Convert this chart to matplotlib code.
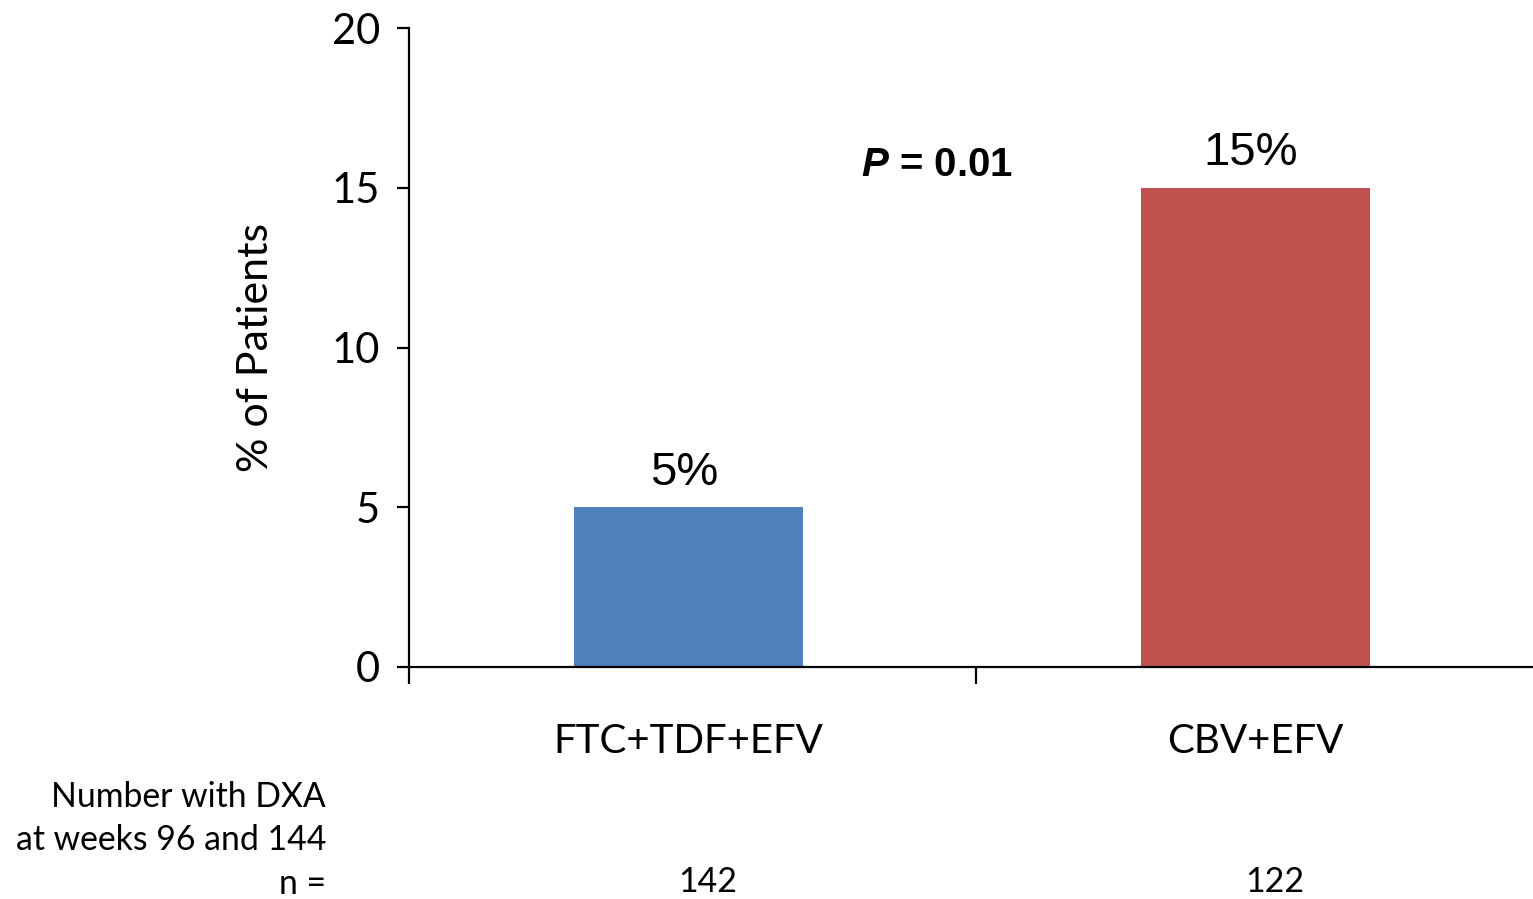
import matplotlib.pyplot as plt

# Data
groups = ["FTC+TDF+EFV", "CBV+EFV"]
percent = [5, 15]
n_dxa = [142, 122]
colors = ["#4F81BD", "#C0504D"]
p_text = "0.01"

body = "Lato"
arial = "Liberation Sans"

plt.rcParams["mathtext.fontset"] = "custom"
plt.rcParams["mathtext.bfit"] = "Liberation Sans:italic:bold"

fig = plt.figure(figsize=(15.33, 8.99), dpi=100)
ax = fig.add_axes([409 / 1533, 1 - 667 / 899, (1533 - 409) / 1533, 639 / 899])

xpos = [i + 0.493 for i in range(len(groups))]
ax.bar(xpos, percent, width=0.404, color=colors, zorder=2)

ax.set_xlim(0, (1533 - 409) / 567)
ax.set_ylim(0, 20)

for s in ["top", "right"]:
    ax.spines[s].set_visible(False)
for s in ["left", "bottom"]:
    ax.spines[s].set_linewidth(1.6)

ax.set_yticks([0, 5, 10, 15, 20])
ax.tick_params(axis="y", direction="out", length=9, width=1.6, pad=12,
               labelsize=30)
for lab in ax.get_yticklabels():
    lab.set_fontfamily(body)

ax.set_xticks([0, 1])
ax.set_xticklabels([])
ax.tick_params(axis="x", which="major", direction="out", length=12, width=1.6)
ax.set_xticks(xpos, minor=True)
ax.set_xticklabels(groups, minor=True, fontsize=29, fontfamily=body)
ax.tick_params(axis="x", which="minor", length=0, pad=40)

ax.set_ylabel("% of Patients", fontsize=31, fontfamily=body, labelpad=41)

# value labels above bars
for x, v in zip(xpos, percent):
    ax.text(x - 0.008, v + 0.7, f"{v}%", ha="center", va="baseline",
            fontsize=34, fontfamily=arial)

ax.text(0.931, 15.7, r"$\mathbfit{P}$" + " = " + p_text, ha="center",
        va="center", fontsize=29, fontfamily=arial, fontweight="bold")

# patient counts below
tr = ax.get_xaxis_transform()
for x, n in zip(xpos, n_dxa):
    ax.text(x + 0.034, -0.336, str(n), transform=tr, ha="center",
            va="center", fontsize=24.5, fontfamily=body)

fig.text(326 / 1533, 1 - 797 / 899, "Number with DXA", ha="right",
         va="center", fontsize=24.3, fontfamily=body)
fig.text(326 / 1533, 1 - 840 / 899, "at weeks 96 and 144", ha="right",
         va="center", fontsize=24.3, fontfamily=body)
fig.text(326 / 1533, 1 - 884 / 899, "n =", ha="right",
         va="center", fontsize=24.3, fontfamily=body)

fig.savefig("out.png", dpi=100)
